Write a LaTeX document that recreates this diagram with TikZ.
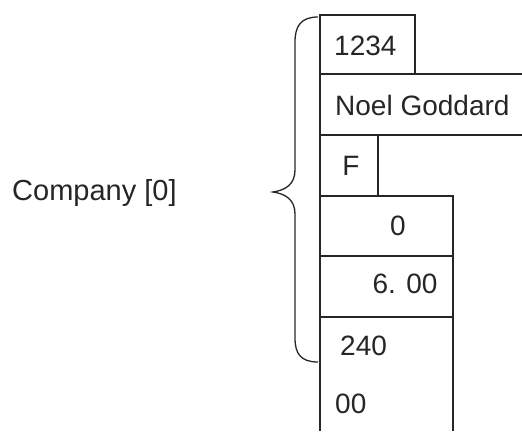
\documentclass[tikz,border=0pt]{standalone}
\usepackage{fontspec}
\setmainfont{Liberation Sans}
\begin{document}
\begin{tikzpicture}[x=1pt,y=-1pt,
  cell/.style={draw=black!85,line width=1.2pt},
  lbl/.style={inner sep=0pt,font=\fontsize{28}{30}\selectfont,text=black!85},
  brace/.style={draw=black!85,line width=1.3pt}]
\useasboundingbox (0,0) rectangle (522,431);
% cells
\draw[cell] (320,74) -- (320,15) -- (415,15) -- (415,74);
\draw[cell] (320,74) -- (522,74);
\draw[cell] (320,135) -- (522,135);
\draw[cell] (378,135) -- (378,196);
\draw[cell] (320,196) -- (453,196) -- (453,431);
\draw[cell] (320,256) -- (453,256);
\draw[cell] (320,317) -- (453,317);
\draw[cell] (320,15) -- (320,431);
% texts
\node[lbl,anchor=base west] (id) at (334,55) {1234};
\node[lbl,anchor=base west] (name) at (335,115) {Noel Goddard};
\node[lbl,anchor=base] (sex) at (351,175) {F};
\node[lbl,anchor=base] (zero) at (398,235) {0};
\node[lbl,anchor=base] (rate) at (405,293) {6. 00};
\node[lbl,anchor=base west] (a) at (340,355) {240};
\node[lbl,anchor=base west] (b) at (335,413) {00};
\node[lbl,anchor=base west,font=\fontsize{29}{31}\selectfont] (company) at (12,200) {Company [0]};
% brace
\draw[brace] (318,17) .. controls (301,17) and (295,26) .. (295,42) -- (295,170)
  .. controls (295,184) and (286,190) .. (273,192)
  .. controls (286,194) and (295,200) .. (295,214) -- (295,338)
  .. controls (295,354) and (301,362) .. (318,362);
\end{tikzpicture}
\end{document}
